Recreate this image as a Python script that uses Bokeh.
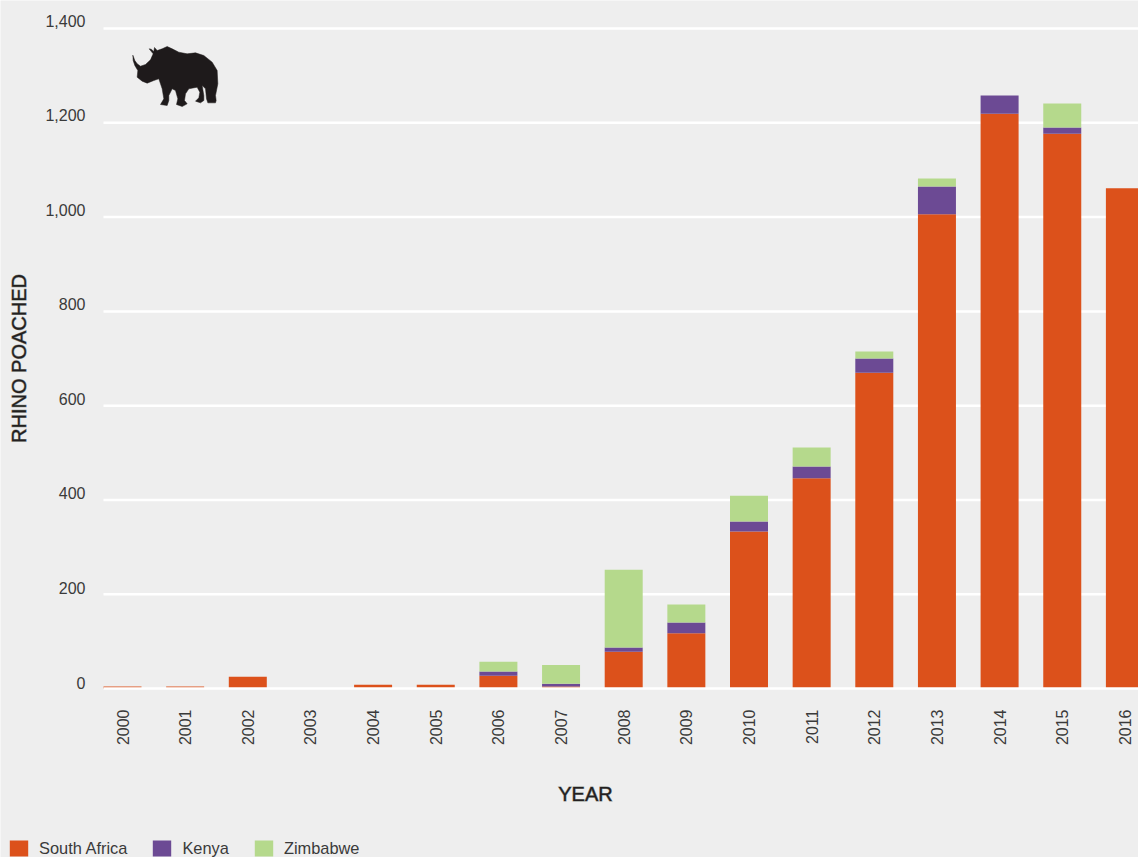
from bokeh.plotting import figure
from bokeh.models import ColumnDataSource, FixedTicker, Legend, LegendItem, Range1d
from bokeh.core.properties import value
from bokeh.embed import file_html
from bokeh.resources import INLINE
import math

# Rhino poached per year, by country
years = [2000, 2001, 2002, 2003, 2004, 2005, 2006, 2007, 2008,
         2009, 2010, 2011, 2012, 2013, 2014, 2015, 2016]
south_africa = [4, 4, 25, 0, 8, 8, 27, 4, 78, 117, 333, 446, 670, 1006, 1219, 1177, 1061]
kenya = [0, 0, 0, 0, 0, 0, 9, 6, 9, 23, 21, 25, 30, 59, 39, 13, 0]
zimbabwe = [0, 0, 0, 0, 0, 0, 21, 40, 165, 38, 55, 40, 15, 17, 0, 51, 0]
y_ticks = [0, 200, 400, 600, 800, 1000, 1200, 1400]

COLORS = {"South Africa": "#DC511B", "Kenya": "#6C4A94", "Zimbabwe": "#B5D98C"}
BACKGROUND = "#EEEEEE"
FONT = "Liberation Sans"
LABEL_COLOR = "#3A3A3A"
TITLE_COLOR = "#231F20"

# Rhino silhouette outline, on the icon's own drawing grid
rhino_px = [(97, 104), (103, 120), (110, 130), (120, 137), (135, 132), (150, 118), (158, 100),
            (146, 85), (152, 86), (160, 93), (162, 81), (170, 90), (185, 85), (200, 78),
            (215, 85), (235, 95), (260, 100), (285, 97), (310, 105), (335, 125), (350, 150),
            (352, 190), (345, 225), (347, 240), (345, 247), (322, 247), (318, 235), (315, 205),
            (305, 195), (310, 225), (310, 240), (300, 247), (285, 242), (295, 232), (298, 215),
            (290, 200), (265, 205), (255, 220), (252, 240), (260, 250), (245, 258), (228, 252),
            (232, 235), (225, 210), (215, 205), (205, 225), (205, 240), (200, 255), (180, 252),
            (190, 235), (185, 205), (175, 175), (160, 180), (140, 188), (125, 182), (110, 170),
            (112, 150), (103, 135), (98, 120)]

WIDTH, HEIGHT = 1138, 857
ZERO_PX, FIRST_BAR_PX, GRID_LEFT_PX = 688, 122, 103
PX_PER_YEAR = 62.65
PX_PER_UNIT = 0.4714


def to_x(px):
    return 2000 + (px - FIRST_BAR_PX) / PX_PER_YEAR


def to_y(py):
    return (ZERO_PX - py) / PX_PER_UNIT


# The plot frame covers the whole page so axes and legend can sit anywhere on it
p = figure(width=WIDTH, height=HEIGHT, output_backend="svg", toolbar_location=None,
           x_range=Range1d(to_x(0), to_x(WIDTH)), y_range=Range1d(to_y(HEIGHT), to_y(0)),
           min_border_left=0, min_border_right=0, min_border_top=0, min_border_bottom=0,
           y_axis_location=None,
           background_fill_color=BACKGROUND, border_fill_color=BACKGROUND)
p.outline_line_color = None
p.grid.visible = False

# Horizontal guides; the zero line is the year axis rule
guide_ticks = [t for t in y_ticks if t > 0]
p.segment(x0=[to_x(GRID_LEFT_PX)] * len(guide_ticks), x1=[to_x(WIDTH)] * len(guide_ticks),
          y0=guide_ticks, y1=guide_ticks, line_color="white", line_width=2.5)

source = ColumnDataSource(dict(year=years, south_africa=south_africa, kenya=kenya, zimbabwe=zimbabwe))
stack = p.vbar_stack(["south_africa", "kenya", "zimbabwe"], x="year", width=38 / PX_PER_YEAR,
                     color=list(COLORS.values()), line_color=None, source=source)

# Icon in the upper-left corner of the plot area
p.patch([to_x(100 + a / 3) for a, _ in rhino_px], [to_y(20 + b / 3) for _, b in rhino_px],
        fill_color="#1E1A1B", line_color="#1E1A1B", line_width=0.5)

# Year axis
ax = p.xaxis[0]
ax.fixed_location = 0
ax.bounds = (to_x(GRID_LEFT_PX), to_x(WIDTH))
ax.ticker = FixedTicker(ticks=years)
ax.axis_line_color = "white"
ax.axis_line_width = 2.5
ax.major_tick_line_color = None
ax.minor_tick_line_color = None
ax.major_label_orientation = math.pi / 2
ax.major_label_standoff = 15
ax.major_label_text_font = FONT
ax.major_label_text_font_size = "16px"
ax.major_label_text_color = LABEL_COLOR

# Count labels, set slightly above their guides
p.text(x=[to_x(85)] * len(y_ticks), y=y_ticks, text=[f"{t:,}" for t in y_ticks],
       y_offset=[-6 - 2 * t / 1400 for t in y_ticks],
       text_align="right", text_baseline="middle", text_font=value(FONT),
       text_font_size="16px", text_color=LABEL_COLOR)

# Axis titles, given a thin outline for a medium weight
p.text(x=[to_x(585)], y=[to_y(793)], text=["YEAR"], text_align="center", text_baseline="middle",
       text_font=value(FONT), text_font_size="20px", text_color=TITLE_COLOR,
       text_outline_color="#231F2080")
p.text(x=[to_x(18)], y=[to_y(358)], text=["RHINO POACHED"], angle=math.pi / 2,
       text_align="center", text_baseline="middle",
       text_font=value(FONT), text_font_size="20px", text_color=TITLE_COLOR,
       text_outline_color="#231F2080")

legend = Legend(items=[LegendItem(label=name, renderers=[r]) for name, r in zip(COLORS, stack)],
                orientation="horizontal", location=(7, -1),
                background_fill_alpha=0, border_line_color=None,
                glyph_width=23, glyph_height=20, label_standoff=9, spacing=23,
                margin=0, padding=0,
                label_text_font=FONT, label_text_font_size="16.4px", label_text_color=LABEL_COLOR)
p.add_layout(legend, "center")

open("out.html", "w").write(file_html(p, INLINE))
